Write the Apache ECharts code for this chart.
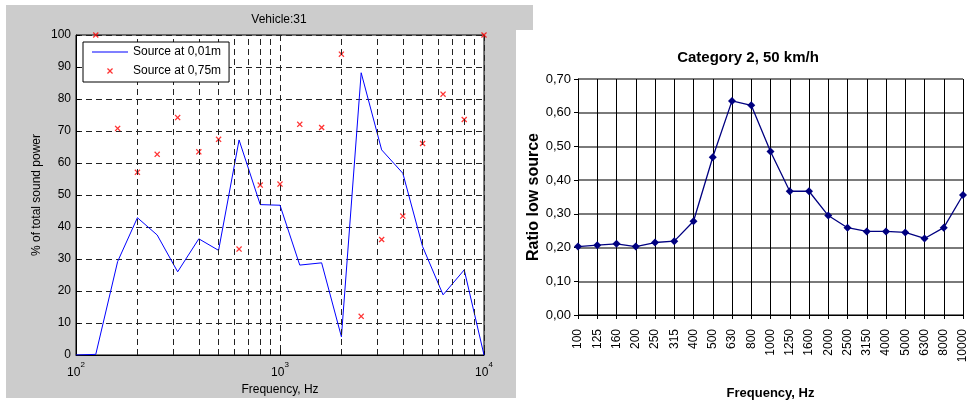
<!DOCTYPE html>
<html><head><meta charset="utf-8">
<script src="https://cdn.jsdelivr.net/npm/echarts@6/dist/echarts.min.js"></script>
<style>html,body{margin:0;padding:0;background:#fff}#c{width:975px;height:405px}</style>
</head><body><div id="c"></div>
<script>
// ---- Left chart (Vehicle:31) ----
const freqs = [100,125,160,200,250,315,400,500,630,800,1000,1250,1600,2000,2500,3150,4000,5000,6300,8000,10000];
const source001 = [0,0.2,29.2,42.9,37.5,26.0,36.3,32.7,67.2,47.0,46.8,28.1,28.8,5.7,88.2,64.1,56.8,33.9,18.8,26.6,0];
const source075 = [null,100,70.8,57.1,62.7,74.2,63.5,67.4,33.1,53.1,53.4,72.1,71.1,94.0,12.1,36.1,43.4,66.1,81.5,73.6,100];
const leftXTickBase = '10';
const leftXTickExps = {100:'2', 1000:'3', 10000:'4'};
const leftMinorGrid = [200,300,400,500,600,700,800,900,2000,3000,4000,5000,6000,7000,8000,9000];

// ---- Right chart (Category 2, 50 km/h) ----
const catLabels = ['100','125','160','200','250','315','400','500','630','800','1000','1250','1600','2000','2500','3150','4000','5000','6300','8000','10000'];
const ratioLow = [0.203,0.207,0.211,0.203,0.215,0.219,0.278,0.468,0.635,0.622,0.485,0.367,0.367,0.295,0.259,0.248,0.248,0.245,0.227,0.259,0.356];

const F = "'Liberation Sans', Arial, Helvetica, sans-serif";
const FN = "'Liberation Sans Narrow', 'Arial Narrow', 'Liberation Sans', sans-serif";
const XMARK = 'path://M0,1.5L1.5,0L5,3.5L8.5,0L10,1.5L6.5,5L10,8.5L8.5,10L5,6.5L1.5,10L0,8.5L3.5,5Z';
const LINEICON = 'path://M0,0H36V1H0Z';

const chart = echarts.init(document.getElementById('c'));
chart.setOption({
  animation: false,
  graphic: [
    {type:'rect', z:-100, silent:true, shape:{x:6,y:5,width:527,height:25}, style:{fill:'#cccccc'}},
    {type:'rect', z:-100, silent:true, shape:{x:6,y:5,width:510,height:393}, style:{fill:'#cccccc'}}
  ],
  title: [
    {text:'Vehicle:31', left:279, top:14, padding:0, textAlign:'center',
     textStyle:{fontFamily:F, fontSize:12, fontWeight:'normal', color:'#000'}},
    {text:'Category 2, 50 km/h', left:748, top:50, padding:0, textAlign:'center',
     textStyle:{fontFamily:FN, fontSize:15, fontWeight:'bold', color:'#000'}}
  ],
  legend: {
    z:50, zlevel:1,
    left:83, top:42, orient:'vertical', padding:[4,8,5,9], itemGap:7,
    itemWidth:36, itemHeight:6, backgroundColor:'#fff', borderColor:'#000', borderWidth:1, borderRadius:0,
    textStyle:{fontFamily:F, fontSize:12, color:'#000'},
    data:[{name:'Source at 0,01m', icon:LINEICON}, {name:'Source at 0,75m', icon:XMARK}]
  },
  grid: [
    {left:76, top:35, width:408, height:320, show:true, backgroundColor:'#fff', borderColor:'#000', borderWidth:1},
    {left:578, top:79, width:385, height:237}
  ],
  xAxis: [
    {gridIndex:0, type:'log', logBase:10, min:100, max:10000,
     name:'Frequency, Hz', nameLocation:'middle', nameGap:24,
     nameTextStyle:{fontFamily:F, fontSize:12, color:'#000'},
     axisLine:{lineStyle:{color:'#000', width:1}},
     axisTick:{inside:true, length:4, lineStyle:{color:'#000'}},
     axisLabel:{margin:6, color:'#000', fontFamily:F,
       formatter: v => '{b|' + leftXTickBase + '}{s|' + (leftXTickExps[v] || '') + '}',
       rich:{b:{fontFamily:F, fontSize:12, color:'#000', padding:[6,0,0,0]}, s:{fontFamily:F, fontSize:8, color:'#000', verticalAlign:'top', padding:[0,0,6,0]}}},
     splitLine:{show:true, lineStyle:{color:'#222', type:[6,4], width:1}}},
    {gridIndex:1, type:'category', boundaryGap:false, data:catLabels,
     name:'Frequency, Hz', nameLocation:'middle', nameGap:72,
     nameTextStyle:{fontFamily:FN, fontSize:13, fontWeight:'bold', color:'#000'},
     axisLine:{lineStyle:{color:'#000', width:1}},
     axisTick:{show:true, interval:0, length:4, lineStyle:{color:'#000'}},
     axisLabel:{interval:0, rotate:90, margin:14, color:'#000', fontFamily:F, fontSize:12},
     splitLine:{show:true, interval:0, lineStyle:{color:'#000', width:1}}}
  ],
  yAxis: [
    {gridIndex:0, type:'value', min:0, max:100, interval:10,
     name:'% of total sound power', nameLocation:'middle', nameGap:33,
     nameTextStyle:{fontFamily:F, fontSize:12, color:'#000'},
     axisLine:{show:true, lineStyle:{color:'#000'}},
     axisTick:{show:true, inside:true, length:4, lineStyle:{color:'#000'}},
     axisLabel:{margin:5, color:'#000', fontFamily:F, fontSize:12},
     splitLine:{show:true, lineStyle:{color:'#222', type:[6,4], width:1}}},
    {gridIndex:1, type:'value', min:0, max:0.7, interval:0.1,
     name:'Ratio low source', nameLocation:'middle', nameGap:33,
     nameTextStyle:{fontFamily:F, fontSize:16, fontWeight:'bold', color:'#000'},
     axisLine:{show:true, lineStyle:{color:'#000', width:1}},
     axisTick:{show:true, length:4, lineStyle:{color:'#000'}},
     axisLabel:{margin:7, color:'#000', fontFamily:FN, fontSize:13,
       formatter: v => v.toFixed(2).replace('.', ',')},
     splitLine:{show:true, lineStyle:{color:'#7a7a7a', width:2}}}
  ],
  series: [
    {name:'Source at 0,01m', type:'line', xAxisIndex:0, yAxisIndex:0,
     data: freqs.map((f,i) => [f, source001[i]]),
     symbol:'none', lineStyle:{color:'#0000ff', width:1}, itemStyle:{color:'#0000ff'},
     markLine:{silent:true, symbol:['none','none'], label:{show:false},
       lineStyle:{color:'#222', type:[6,4], width:1},
       data: leftMinorGrid.map(v => ({xAxis:v}))}},
    {name:'Source at 0,75m', type:'scatter', xAxisIndex:0, yAxisIndex:0,
     data: freqs.map((f,i) => [f, source075[i]]).filter(d => d[1] !== null),
     symbol:XMARK, symbolSize:6, itemStyle:{color:'#ff0000'}},
    {name:'Ratio low source', type:'line', xAxisIndex:1, yAxisIndex:1,
     data: ratioLow, symbol:'diamond', symbolSize:8, showAllSymbol:true,
     lineStyle:{color:'#000080', width:1.3}, itemStyle:{color:'#000080'}}
  ]
});
</script></body></html>
